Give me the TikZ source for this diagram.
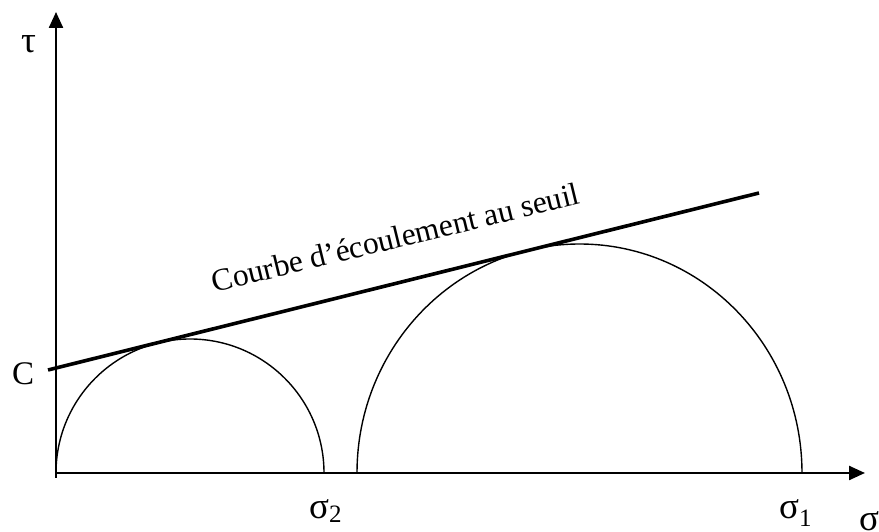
\documentclass[tikz,border=0pt]{standalone}
\usepackage{fontspec}
\setmainfont{Liberation Serif}
\usetikzlibrary{arrows.meta}
\begin{document}
\begin{tikzpicture}[x=1pt,y=1pt,
  axis/.style={line width=2.4pt,-{Triangle[length=16pt,width=14pt]}},
  mohr/.style={line width=1.4pt},
  seuil/.style={line width=3.6pt},
  lbl/.style={inner sep=0pt,font=\fontsize{33}{33}\selectfont},
  greek/.style={inner sep=0pt,font=\fontsize{37}{37}\selectfont}]
\useasboundingbox (0,0) rectangle (879,532);
\coordinate (O) at (56,59);
\coordinate (Ytop) at (56,520);
\coordinate (Xend) at (865,59);
\coordinate (Obot) at (56,54);
\coordinate (A1) at (56,59);
\coordinate (A2) at (357,59);
\coordinate (L1) at (48,162);
\coordinate (L2) at (759,339);
% axes
\draw[axis] (Obot) -- (Ytop);
\draw[axis] (O) -- (Xend);
% Mohr circles
\draw[mohr] (A1) arc[start angle=180,end angle=0,radius=134];
\draw[mohr] (A2) arc[start angle=180,end angle=0,x radius=222.5,y radius=229];
% threshold line
\draw[seuil] (L1) -- (L2);
\node[anchor=base,rotate=13.7,inner sep=0pt,font=\fontsize{31.5}{31.5}\selectfont] (txt) at (398,284) {Courbe d’écoulement au seuil};
% labels
\node[greek,anchor=base west] (tau) at (21,479) {τ};
\node[lbl,anchor=base west] (C) at (12,147) {C};
\node[greek,anchor=base west] (s2) at (309,13) {σ\raisebox{-4pt}{\fontsize{25}{25}\selectfont 2}};
\node[greek,anchor=base west] (s1) at (779,13) {σ\raisebox{-8pt}{\fontsize{25}{25}\selectfont 1}};
\node[greek,anchor=base west] (s) at (859,1) {σ};
\end{tikzpicture}
\end{document}
